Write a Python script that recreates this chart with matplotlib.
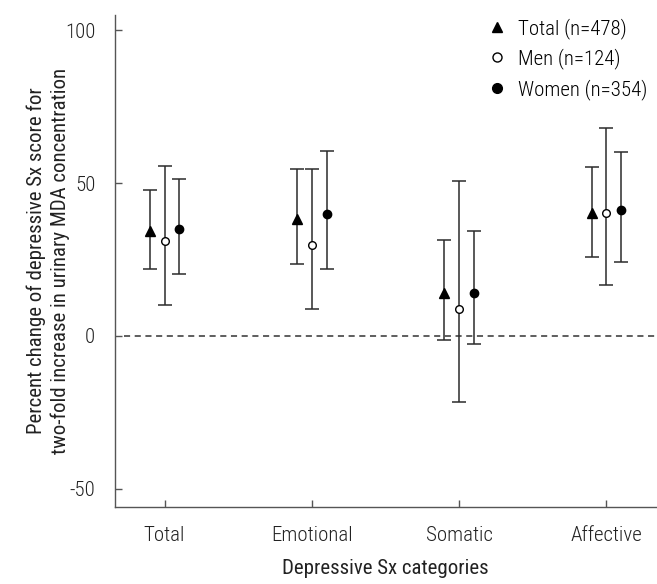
import matplotlib
matplotlib.use('Agg')
import matplotlib.pyplot as plt
from matplotlib.lines import Line2D
import numpy as np

"""
Percent change of depressive Sx score per two-fold MDA increase, by category and sex.
"""

plt.rcParams['font.family'] = ['Roboto Condensed', 'Archivo Narrow', 'Liberation Sans', 'DejaVu Sans']
plt.rcParams['font.weight'] = 'light'
plt.rcParams['axes.unicode_minus'] = False

categories = ['Total', 'Emotional', 'Somatic', 'Affective']

total_est = [34.3, 38.2, 14.2, 40.1]
total_lo = [21.8, 23.4, -1.4, 25.9]
total_hi = [47.6, 54.5, 31.5, 55.4]

men_est = [31.0, 29.6, 8.7, 40.1]
men_lo = [10.2, 8.7, -21.7, 16.6]
men_hi = [55.7, 54.6, 50.7, 68.0]

women_est = [35.0, 39.9, 14.2, 41.1]
women_lo = [20.2, 22.0, -2.7, 24.1]
women_hi = [51.4, 60.5, 34.2, 60.3]

labels = ['Total (n=478)', 'Men (n=124)', 'Women (n=354)']

FS = 15
TXT = '#222222'


def draw_series(ax, x, est, lo, hi, marker, face, msize):
    est = np.array(est)
    yerr = [est - np.array(lo), np.array(hi) - est]
    ax.errorbar(x, est, yerr=yerr, fmt='none', ecolor='#2b2b2b',
                elinewidth=1.1, capsize=4.7, capthick=1.1, zorder=2)
    ax.plot(x, est, linestyle='none', marker=marker, markersize=msize,
            markerfacecolor=face, markeredgecolor='black',
            markeredgewidth=1.0, zorder=3)


fig = plt.figure(figsize=(6.57, 5.84), dpi=100)
ax = fig.add_axes([0.1746, 0.132, 0.8234, 0.842])

xs = np.arange(1, len(categories) + 1)
off = 0.1
draw_series(ax, xs - off, total_est, total_lo, total_hi, '^', 'black', 6.5)
draw_series(ax, xs, men_est, men_lo, men_hi, 'o', 'white', 5.5)
draw_series(ax, xs + off, women_est, women_lo, women_hi, 'o', 'black', 6)

ax.axhline(0, xmin=0.018, xmax=1, color='#333333', linestyle=(0, (4, 3)),
           linewidth=1.1, zorder=1)

ax.set_xlim(0.662, 4.334)
ax.set_ylim(-56, 105)
ax.set_yticks([-50, 0, 50, 100])
ax.set_xticks(xs)
ax.set_xticklabels(categories)

for side in ['top', 'right']:
    ax.spines[side].set_visible(False)
for side in ['left', 'bottom']:
    ax.spines[side].set_color('#555555')
    ax.spines[side].set_linewidth(1.0)
ax.tick_params(direction='in', length=5, width=1.0, color='#555555',
               labelsize=FS, labelcolor=TXT)
ax.tick_params(axis='x', pad=14)
ax.tick_params(axis='y', pad=14)

ax.set_xlabel('Depressive Sx categories', fontsize=FS, color=TXT, labelpad=10)
ax.set_ylabel('Percent change of depressive Sx score for\n'
              'two-fold increase in urinary MDA concentration',
              fontsize=FS, color=TXT, linespacing=1.25)
ax.yaxis.set_label_coords(-0.083, 0.5)

handles = [
    Line2D([], [], linestyle='none', marker='^', markersize=7,
           markerfacecolor='black', markeredgecolor='black'),
    Line2D([], [], linestyle='none', marker='o', markersize=6.5,
           markerfacecolor='white', markeredgecolor='black', markeredgewidth=1.0),
    Line2D([], [], linestyle='none', marker='o', markersize=7,
           markerfacecolor='black', markeredgecolor='black'),
]
ax.legend(handles, labels, loc='upper right', bbox_to_anchor=(1.007, 1.02),
          frameon=False, fontsize=FS, handletextpad=0.5,
          labelspacing=0.45, handlelength=1.0, borderaxespad=0.2)

fig.savefig('out.png', dpi=100)
